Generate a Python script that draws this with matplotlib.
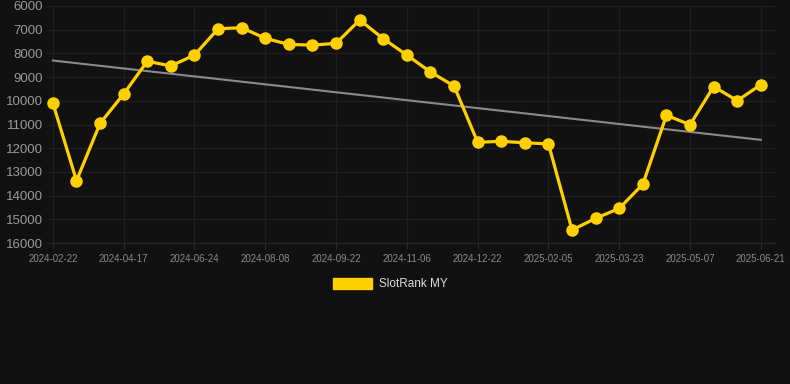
import numpy as np
import matplotlib.pyplot as plt
from matplotlib.patches import Patch

# rank values, one point every ~15 days, y axis is inverted (lower rank = better)
ranks = [10100, 13370, 10950, 9710, 8330, 8530, 8070, 6960, 6915, 7365,
         7620, 7650, 7575, 6590, 7380, 8070, 8785, 9375, 11750, 11710,
         11770, 11820, 15450, 14960, 14540, 13520, 10610, 11010, 9400, 9995,
         9320]
tick_labels = ['2024-02-22', '2024-04-17', '2024-06-24', '2024-08-08',
               '2024-09-22', '2024-11-06', '2024-12-22', '2025-02-05',
               '2025-03-23', '2025-05-07', '2025-06-21']
y_ticks = [6000, 7000, 8000, 9000, 10000, 11000, 12000, 13000, 14000, 15000, 16000]

bg = '#111111'
gold = '#FFD000'

x = np.arange(len(ranks))
slope, intercept = np.polyfit(x, ranks, 1)
trend = slope * x + intercept

plt.rcParams['font.family'] = ['Liberation Sans', 'DejaVu Sans']
fig = plt.figure(figsize=(7.9, 3.84), dpi=100, facecolor=bg)
ax = fig.add_axes([47 / 790, 1 - 243 / 384, (775 - 47) / 790, (243 - 6) / 384])
ax.set_facecolor(bg)

ax.plot(x, trend, color='#8a8a8a', lw=1.5, zorder=2)
ax.plot(x, ranks, color=gold, lw=2.3, marker='o', markersize=8, zorder=3)

ax.set_ylim(16000, 6000)
ax.set_yticks(y_ticks)
ax.set_xlim(-0.25, 30.6)
ax.set_xticks(x[::3])
ax.set_xticklabels(tick_labels)

ax.grid(True, color='#1f1f1f', lw=1)
ax.set_axisbelow(True)
for s in ['top', 'right', 'left']:
    ax.spines[s].set_visible(False)
ax.spines['bottom'].set_color('#2a2a2a')
ax.tick_params(axis='y', length=0, labelsize=9.5, labelcolor='#9a9a9a', pad=3)
ax.tick_params(axis='x', length=4, color='#2a2a2a', labelsize=7, labelcolor='#8a8a8a', pad=4)

handle = Patch(facecolor=gold, edgecolor=gold)
fig.legend([handle], ['SlotRank MY'], loc='center', bbox_to_anchor=(390 / 790, 1 - 284 / 384),
           frameon=False, fontsize=8.5, labelcolor='#dddddd', handlelength=3.3, handleheight=1.1,
           handletextpad=0.6)

fig.savefig('out.png', dpi=100, facecolor=bg)
